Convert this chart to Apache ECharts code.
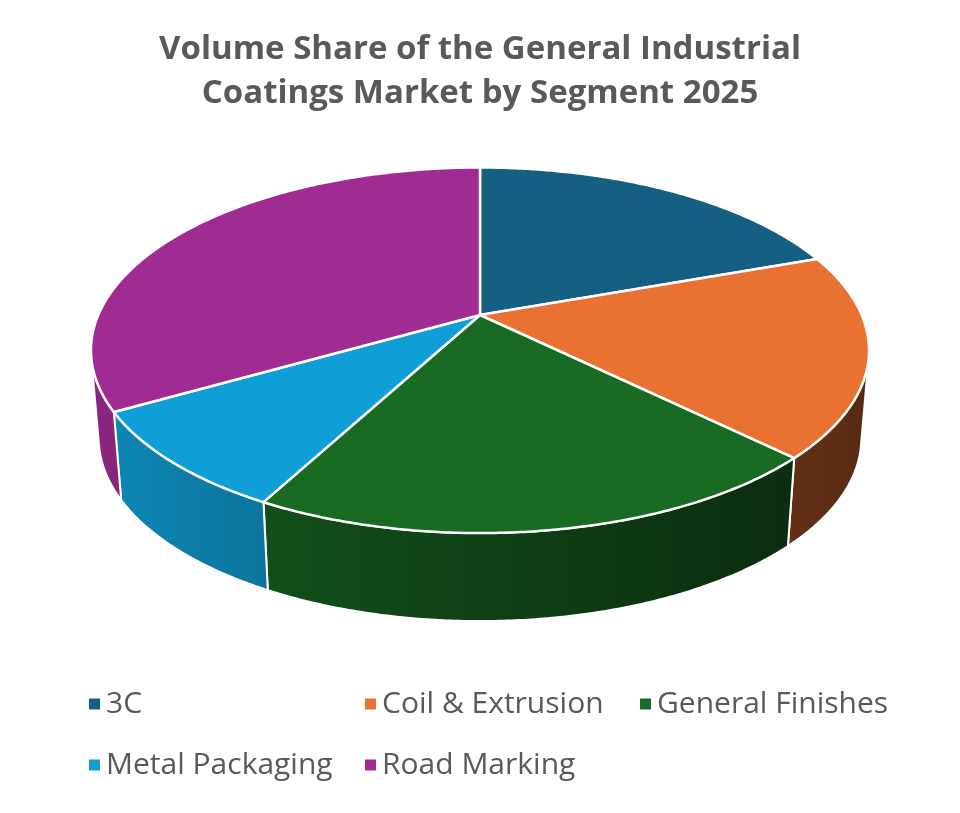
<!DOCTYPE html>
<html>
<head>
<meta charset="utf-8">
<title>Volume Share of the General Industrial Coatings Market by Segment 2025</title>
<script src="https://cdn.jsdelivr.net/npm/echarts@6/dist/echarts.min.js"></script>
<style>
    html, body { margin: 0; padding: 0; background: #fff; }
    #chart { width: 960px; height: 813px; }
</style>
</head>
<body>
<div id="chart"></div>
<script>
    // data (share of volume, %)
    var categories = ['3C', 'Coil & Extrusion', 'General Finishes', 'Metal Packaging', 'Road Marking'];
    var shares = [19.5, 17.9, 20.4, 8.9, 33.3];
    var palette = ['#156082', '#E97132', '#196B24', '#0F9ED5', '#A02B93'];

    var total = shares.reduce(function (a, b) { return a + b; }, 0);

    // tilted pie geometry
    var cx = 480, cy = 315, rx = 381.7, ry = 176, tilt = 0.193, depth = 88, shrink = 0.98;

    function project(deg, bottom) {
        var a = deg * Math.PI / 180;
        var px = Math.sin(a), py = -Math.cos(a);
        var w = 1 - tilt * py;
        var x = cx + rx * px / w, y = cy + ry * py / w;
        if (bottom) {
            x = cx + (x - cx) * shrink;
            y += depth;
        }
        return [x, y];
    }

    function arc(from, to, bottom) {
        var pts = [];
        var n = Math.max(2, Math.ceil(Math.abs(to - from) / 0.5));
        for (var i = 0; i <= n; i++) {
            pts.push(project(from + (to - from) * i / n, bottom));
        }
        return pts;
    }

    // which part of the side wall faces the viewer
    var frontFrom = 360, frontTo = 0;
    for (var t = 0; t < 360; t += 0.1) {
        var p0 = project(t), p1 = project(t + 0.1), q0 = project(t, true);
        var cross = (p1[0] - p0[0]) * (q0[1] - p0[1]) - (p1[1] - p0[1]) * (q0[0] - p0[0]);
        if (cross < 0) {
            frontFrom = Math.min(frontFrom, t);
            frontTo = Math.max(frontTo, t + 0.1);
        }
    }

    function shade(hex, f) {
        var r = parseInt(hex.substr(1, 2), 16), g = parseInt(hex.substr(3, 2), 16), b = parseInt(hex.substr(5, 2), 16);
        return 'rgb(' + Math.round(r * f) + ',' + Math.round(g * f) + ',' + Math.round(b * f) + ')';
    }

    function wallFill(color) {
        return {
            type: 'linear', global: true,
            x: cx - rx, y: 0, x2: cx + rx, y2: 0,
            colorStops: [
                {offset: 0, color: shade(color, 0.86)},
                {offset: 0.25, color: shade(color, 0.72)},
                {offset: 1, color: shade(color, 0.38)}
            ]
        };
    }

    function renderSlice(idx) {
        return function (params, api) {
            var before = 0;
            for (var i = 0; i < idx; i++) before += shares[i];
            var start = 360 * before / total;
            var end = start + 360 * api.value(0) / total;
            var color = palette[idx];
            var children = [];
            var lo = Math.max(start, frontFrom), hi = Math.min(end, frontTo);
            if (hi > lo) {
                children.push({
                    type: 'polygon',
                    shape: {points: arc(lo, hi, false).concat(arc(hi, lo, true))},
                    style: {fill: wallFill(color), stroke: '#fff', lineWidth: 2, lineJoin: 'round'}
                });
            }
            children.push({
                type: 'polygon',
                z2: 10,
                shape: {points: [[cx, cy]].concat(arc(start, end, false))},
                style: {fill: color, stroke: '#fff', lineWidth: 2.5, lineJoin: 'round'}
            });
            return {type: 'group', children: children};
        };
    }

    var series = categories.map(function (name, i) {
        return {
            name: name,
            type: 'custom',
            coordinateSystem: 'none',
            itemStyle: {color: palette[i]},
            data: [shares[i]],
            renderItem: renderSlice(i)
        };
    });

    var legendBase = {
        orient: 'vertical',
        top: 684,
        itemGap: 31,
        itemWidth: 11,
        itemHeight: 11,
        icon: 'rect',
        selectedMode: false,
        textStyle: {fontFamily: 'Open Sans', fontSize: 30, color: '#595959', lineHeight: 30, padding: [0, 0, 0, 1]}
    };

    var myChart = echarts.init(document.getElementById('chart'));
    var option = {
        animation: false,
        backgroundColor: '#fff',
        title: {
            text: 'Volume Share of the General Industrial\nCoatings Market by Segment 2025',
            left: 'center',
            top: 23,
            textStyle: {fontFamily: 'Open Sans', fontSize: 33, fontWeight: 'bold', color: '#595959', lineHeight: 44}
        },
        legend: [
            echarts.util.extend({left: 84, data: [categories[0], categories[3]]}, legendBase),
            echarts.util.extend({left: 360, data: [categories[1], categories[4]]}, legendBase),
            echarts.util.extend({left: 635, data: [categories[2]]}, legendBase)
        ],
        series: series
    };
    myChart.setOption(option);
</script>
</body>
</html>
